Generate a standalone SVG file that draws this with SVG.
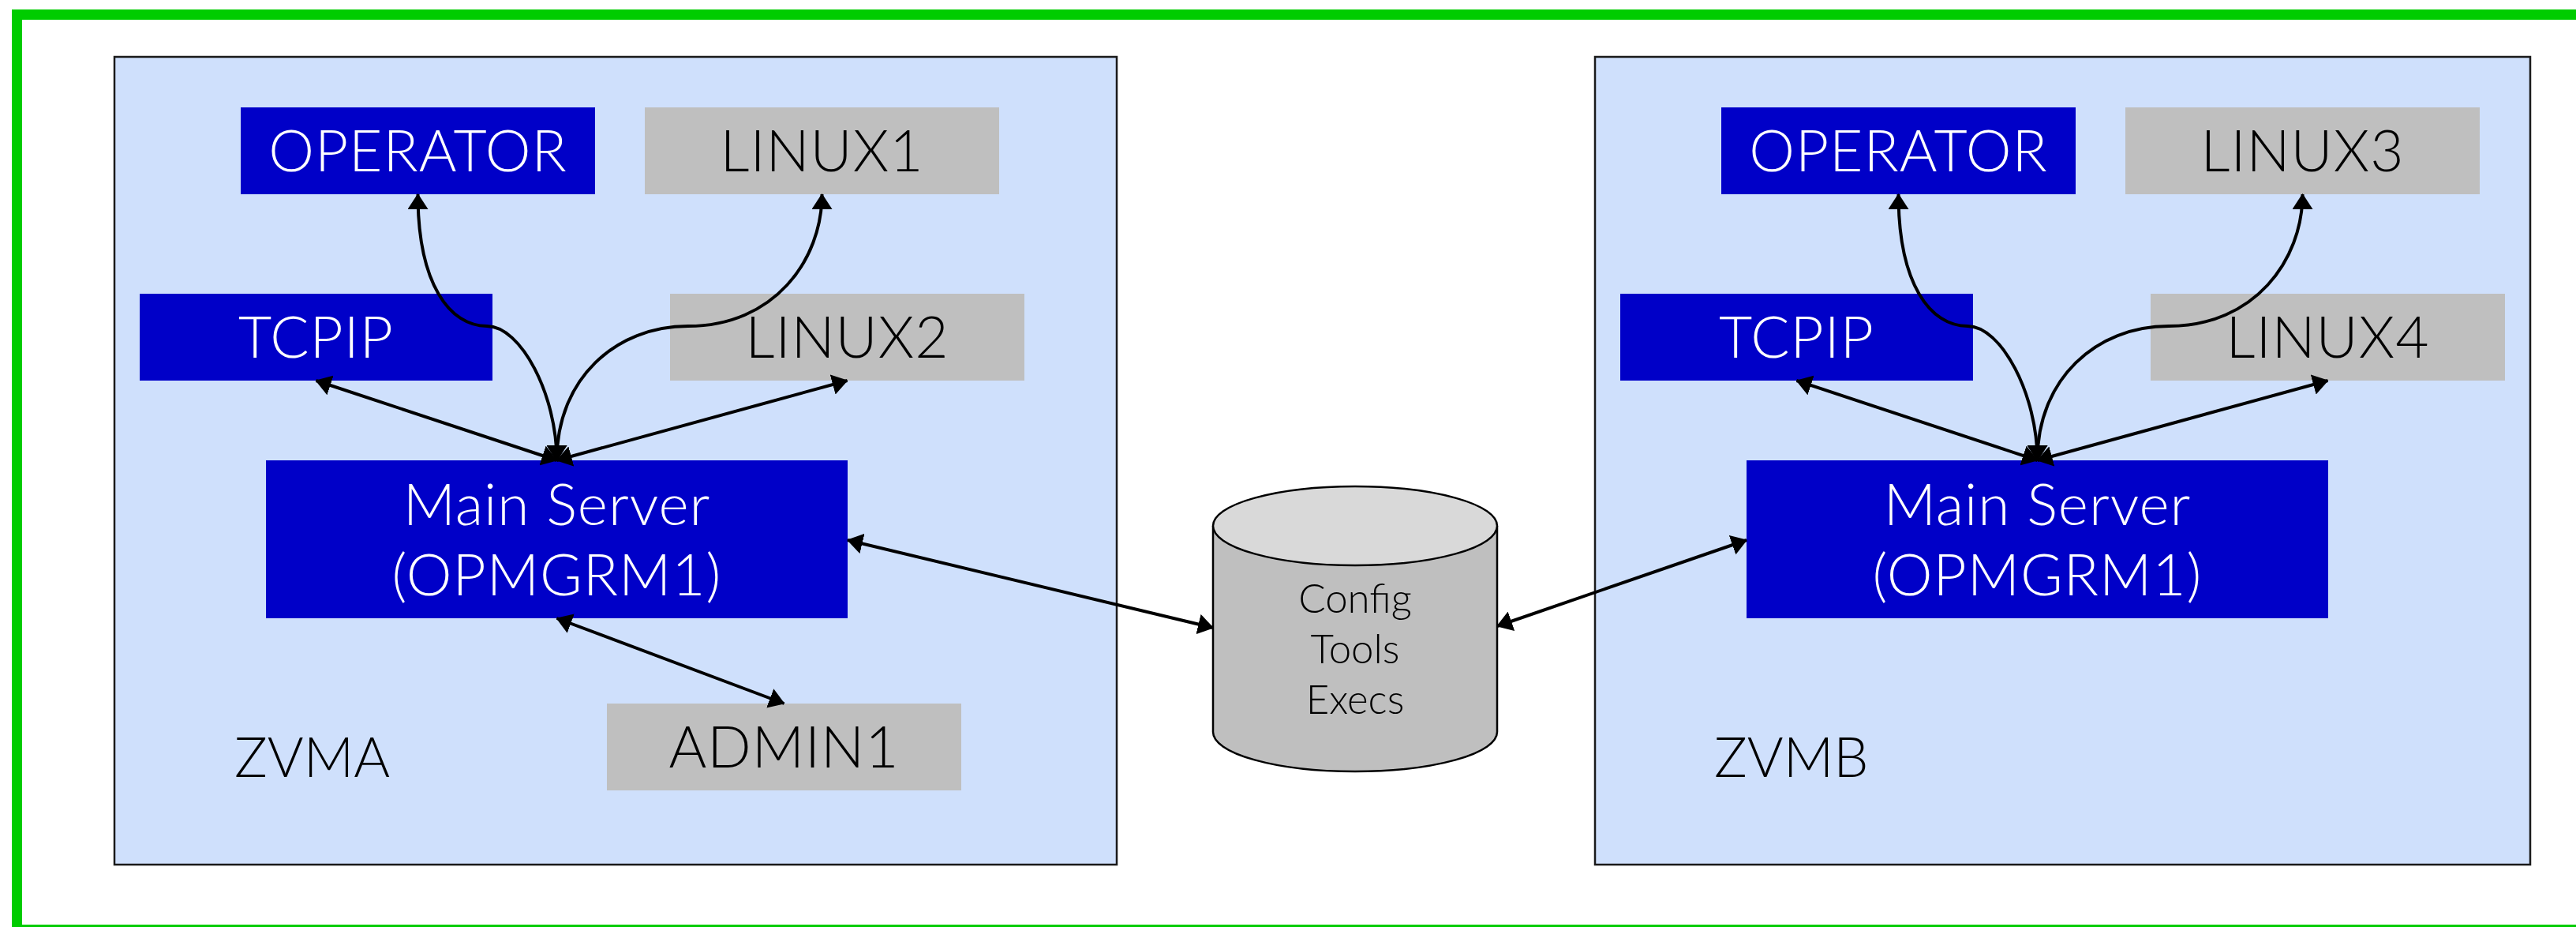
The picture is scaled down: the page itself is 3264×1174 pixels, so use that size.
<svg xmlns="http://www.w3.org/2000/svg" width="3264" height="1174" viewBox="0 0 3264 1174">
<style>
.sys{fill:#cfe0fc;stroke:#1a1a1a;stroke-width:2.5}
.blue{fill:#0000c8}
.gray{fill:#bfbfbf}
.t{font-family:Lato,"Open Sans","Liberation Sans",sans-serif;font-weight:300;font-size:73px;text-anchor:middle;letter-spacing:1px}
.w{fill:#ffffff}
.k{fill:#000000}
.lbl{font-family:Lato,"Open Sans","Liberation Sans",sans-serif;font-weight:300;font-size:70px;fill:#000}
.cyl{font-family:Lato,"Open Sans","Liberation Sans",sans-serif;font-weight:300;font-size:51px;text-anchor:middle;fill:#000}
.c{fill:none;stroke:#000;stroke-width:4;marker-start:url(#arr);marker-end:url(#arr)}
</style>
<defs>
<marker id="arr" markerUnits="userSpaceOnUse" markerWidth="20" markerHeight="26" refX="19" refY="13" orient="auto-start-reverse" viewBox="0 0 20 26">
<path d="M0,0 L20,13 L0,26 z" fill="#000"/>
</marker>
</defs>
<rect x="0" y="0" width="3264" height="1174" fill="#ffffff"/>
<rect id="frame" x="21.5" y="18.5" width="3262" height="1159" fill="none" stroke="#00cc00" stroke-width="13"/>

<g id="ZVMA">
<rect class="sys" x="145" y="72" width="1270" height="1023"/>
<text class="lbl" x="297" y="984">ZVMA</text>
</g>
<g id="ZVMB">
<rect class="sys" x="2021" y="72" width="1185" height="1023"/>
<text class="lbl" x="2172" y="984">ZVMB</text>
</g>

<g id="OPERATOR-A"><rect class="blue" x="305" y="136" width="449" height="110"/><text class="t w" x="529.5" y="217">OPERATOR</text></g>
<g id="LINUX1"><rect class="gray" x="817" y="136" width="449" height="110"/><text class="t k" x="1041.5" y="217">LINUX1</text></g>
<g id="TCPIP-A"><rect class="blue" x="177" y="372" width="447" height="110"/><text class="t w" x="400.5" y="453">TCPIP</text></g>
<g id="LINUX2"><rect class="gray" x="849" y="372" width="449" height="110"/><text class="t k" x="1073.5" y="453">LINUX2</text></g>
<g id="MAIN-A"><rect class="blue" x="337" y="583" width="737" height="200"/><text class="t w" x="705.5" y="665">Main Server</text><text class="t w" x="705.5" y="754">(OPMGRM1)</text></g>
<g id="ADMIN1"><rect class="gray" x="769" y="891" width="449" height="110"/><text class="t k" x="993.5" y="972">ADMIN1</text></g>

<g id="OPERATOR-B"><rect class="blue" x="2181" y="136" width="449" height="110"/><text class="t w" x="2405.5" y="217">OPERATOR</text></g>
<g id="LINUX3"><rect class="gray" x="2693" y="136" width="449" height="110"/><text class="t k" x="2917.5" y="217">LINUX3</text></g>
<g id="TCPIP-B"><rect class="blue" x="2053" y="372" width="447" height="110"/><text class="t w" x="2276.5" y="453">TCPIP</text></g>
<g id="LINUX4"><rect class="gray" x="2725" y="372" width="449" height="110"/><text class="t k" x="2949.5" y="453">LINUX4</text></g>
<g id="MAIN-B"><rect class="blue" x="2213" y="583" width="737" height="200"/><text class="t w" x="2581.5" y="665">Main Server</text><text class="t w" x="2581.5" y="754">(OPMGRM1)</text></g>

<g id="REPO">
<path d="M1537,666 L1537,927 A180,50 0 0 0 1897,927 L1897,666" fill="#bfbfbf" stroke="#000" stroke-width="2.5"/>
<ellipse cx="1717" cy="666" rx="180" ry="50" fill="#d9d9d9" stroke="#000" stroke-width="2.5"/>
<text class="cyl" x="1717" y="776">Config</text>
<text class="cyl" x="1717" y="840">Tools</text>
<text class="cyl" x="1717" y="904">Execs</text>
</g>

<g id="connectors">
<path class="c" d="M705.5,583 L400.5,482"/>
<path class="c" d="M705.5,583 L1073.5,482"/>
<path class="c" d="M705.5,583 C705.5,500 660,413 617,413 C570,413 529.5,360 529.5,246"/>
<path class="c" d="M705.5,583 C705.5,480 780,413 872,413 C980,413 1041.5,330 1041.5,246"/>
<path class="c" d="M705.5,783 L993.5,891"/>
<path class="c" d="M1074,684 L1537,795"/>
<path class="c" d="M2581.5,583 L2276.5,482"/>
<path class="c" d="M2581.5,583 L2949.5,482"/>
<path class="c" d="M2581.5,583 C2581.5,500 2536,413 2493,413 C2446,413 2405.5,360 2405.5,246"/>
<path class="c" d="M2581.5,583 C2581.5,480 2656,413 2748,413 C2856,413 2917.5,330 2917.5,246"/>
<path class="c" d="M1897,793 L2213,684"/>
</g>
</svg>
